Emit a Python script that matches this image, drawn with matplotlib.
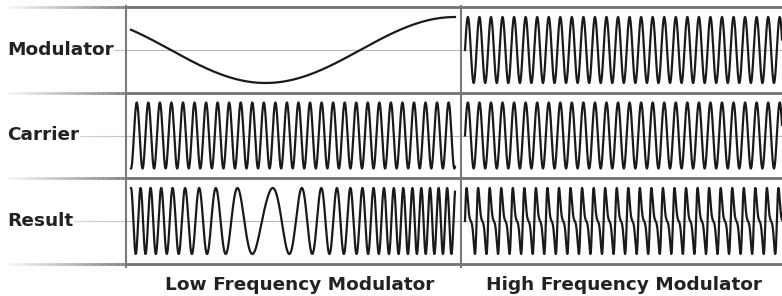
import numpy as np
import matplotlib
matplotlib.use("Agg")
import matplotlib.pyplot as plt
from matplotlib.collections import LineCollection

W, H = 782, 296

# ---- text ----
row_labels = ["Modulator", "Carrier", "Result"]
col_labels = ["Low Frequency Modulator", "High Frequency Modulator"]

# ---- wave parameters (pixel units within a panel) ----
carrier_period = 11.55            # px per cycle
lf_mod_phase = [0.91, 2 * np.pi]  # phase range of slow cosine modulator
hf_mod_period = 11.55             # px per cycle of the fast modulator
result_lf_freq = [0.022, 0.118, 0.6]  # min freq, max freq (cycles/px), curve exponent
result_hf_index = 0.9             # modulation index for fast-modulated result

# ---- layout (pixels) ----
row_edges = [7, 93, 178, 264]
col_edges = [126, 461, 782]
wave_x_left = [5, 329]
wave_x_right = [4, 330]
amp_px = 33.0

fig = plt.figure(figsize=(W / 100, H / 100), dpi=100)
fig.patch.set_facecolor("white")

bg = fig.add_axes([0, 0, 1, 1])
bg.set_xlim(0, W)
bg.set_ylim(H, 0)
bg.axis("off")


def fade_line(ax, y, x0, x1, c_start, c_end, lw, x_dark):
    xs = np.linspace(x0, x_dark, 60)
    segs = [[(xs[i], y), (xs[i + 1], y)] for i in range(len(xs) - 1)]
    t = np.linspace(0, 1, len(segs))[:, None]
    cols = np.array(c_start)[None, :] * (1 - t) + np.array(c_end)[None, :] * t
    ax.add_collection(LineCollection(segs, colors=cols, linewidths=lw, capstyle="butt"))
    ax.plot([x_dark, x1], [y, y], color=c_end, lw=lw, solid_capstyle="butt")


# separators
for y in row_edges:
    fade_line(bg, y, 8, W, (0.97, 0.97, 0.97), (0.45, 0.45, 0.45), 2.0, col_edges[0])
# centre lines
centres = [(row_edges[i] + row_edges[i + 1]) / 2 for i in range(3)]
for y in centres:
    fade_line(bg, y, 8, W, (0.95, 0.95, 0.95), (0.72, 0.72, 0.72), 0.8, col_edges[0])
# vertical lines
for x in col_edges[:2]:
    bg.plot([x, x], [row_edges[0] - 1, row_edges[-1] + 3], color="#7a7a7a", lw=1.5)

# row labels
for lab, y in zip(row_labels, centres):
    bg.text(7, y, lab, ha="left", va="center", fontsize=13.3, fontweight="bold",
            color="#222222", family="DejaVu Sans",
            bbox=dict(facecolor="white", edgecolor="none", pad=0.5))
# column labels
for lab, xc in zip(col_labels, [300, 624]):
    bg.text(xc, 285, lab, ha="center", va="center",
            fontsize=13.3, fontweight="bold", color="#222222", family="DejaVu Sans")


def panel_ax(r, c):
    x0, x1 = col_edges[c], col_edges[c + 1]
    y0, y1 = row_edges[r], row_edges[r + 1]
    ax = fig.add_axes([x0 / W, 1 - y1 / H, (x1 - x0) / W, (y1 - y0) / H])
    ax.set_xlim(0, x1 - x0)
    half = (y1 - y0) / 2 / amp_px
    ax.set_ylim(-half, half)
    ax.axis("off")
    ax.patch.set_alpha(0)
    return ax


wave_kw = dict(color="#1a1a1a", lw=1.6, solid_joinstyle="round")

# --- left column ---
xl = np.linspace(wave_x_left[0], wave_x_left[1], 3000)
theta = lf_mod_phase[0] + (xl - xl[0]) / (xl[-1] - xl[0]) * (lf_mod_phase[1] - lf_mod_phase[0])
lf_mod = np.cos(theta)
panel_ax(0, 0).plot(xl, lf_mod, **wave_kw)

carrier_l = -np.cos(2 * np.pi * (xl - xl[0]) / carrier_period)
panel_ax(1, 0).plot(xl, carrier_l, **wave_kw)

f_lo, f_hi, curve = result_lf_freq
inst_f = f_lo + (f_hi - f_lo) * ((1 + lf_mod) / 2) ** curve
phase = np.concatenate([[0], np.cumsum(0.5 * (inst_f[1:] + inst_f[:-1]) * np.diff(xl))])
result_l = np.cos(2 * np.pi * phase)
panel_ax(2, 0).plot(xl, result_l, **wave_kw)

# --- right column ---
xr = np.linspace(wave_x_right[0], wave_x_right[1], 4000)
hf_mod = np.sin(2 * np.pi * (xr - xr[0]) / hf_mod_period)
panel_ax(0, 1).plot(xr, hf_mod, **wave_kw)

carrier_r = np.sin(2 * np.pi * (xr - xr[0]) / carrier_period)
panel_ax(1, 1).plot(xr, carrier_r, **wave_kw)

result_r = np.sin(2 * np.pi * (xr - xr[0]) / carrier_period + result_hf_index * hf_mod)
panel_ax(2, 1).plot(xr, result_r, **wave_kw)

fig.savefig("out.png", dpi=100, facecolor="white")
